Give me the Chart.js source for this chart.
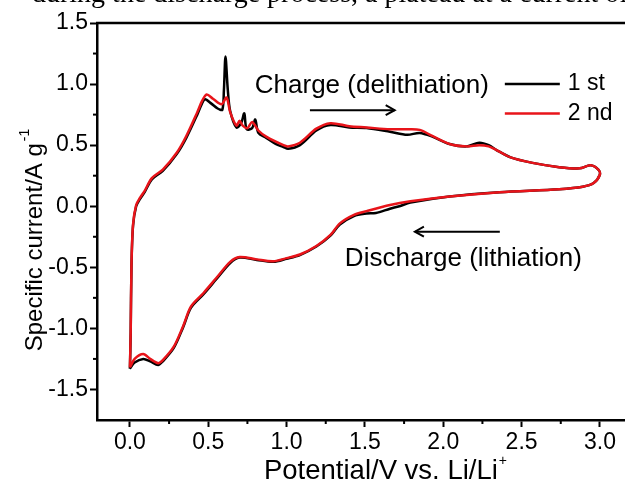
<!DOCTYPE html>
<html><head><meta charset="utf-8">
<script src="https://cdn.jsdelivr.net/npm/chart.js@4.4.1/dist/chart.umd.min.js"></script>
<style>
html,body{margin:0;padding:0;background:#fff;overflow:hidden;}
#wrap{position:relative;width:625px;height:486px;}
canvas{position:absolute;left:0;top:0;}
</style></head><body>
<div id="wrap"><canvas id="c" width="625" height="486"></canvas></div>
<script>
// ---- data ----
const seriesNames = ['1 st', '2 nd'];
const seriesColors = ['#000000', '#e8141a'];
const cycle1Potential = [0.00,0.005,0.01,0.02,0.04,0.065,0.096,0.14,0.21,0.30,0.36,0.43,0.46,0.48,0.52,0.56,0.59,0.60,0.61,0.625,0.64,0.68,0.71,0.73,0.745,0.78,0.80,0.82,0.87,0.93,0.98,1.01,1.085,1.19,1.28,1.40,1.51,1.66,1.77,1.85,1.93,2.04,2.15,2.23,2.29,2.34,2.43,2.57,2.74,2.87,2.94,2.99,3.00,
  2.96,2.89,2.74,2.36,2.04,1.79,1.72,1.66,1.57,1.51,1.43,1.34,1.28,1.19,1.085,1.00,0.915,0.81,0.70,0.64,0.55,0.47,0.39,0.34,0.28,0.21,0.18,0.13,0.085,0.03,0.00];
const cycle1Current = [-1.33,-1.04,-0.49,-0.16,0.00,0.06,0.12,0.22,0.29,0.43,0.56,0.75,0.84,0.875,0.84,0.80,0.79,0.95,1.225,0.95,0.78,0.645,0.68,0.76,0.63,0.64,0.71,0.60,0.56,0.51,0.485,0.47,0.50,0.62,0.665,0.645,0.64,0.61,0.585,0.60,0.57,0.51,0.49,0.52,0.50,0.46,0.40,0.355,0.32,0.31,0.335,0.30,0.26,
  0.19,0.16,0.14,0.115,0.08,0.03,0.00,-0.02,-0.055,-0.06,-0.08,-0.15,-0.24,-0.33,-0.40,-0.43,-0.455,-0.44,-0.42,-0.465,-0.60,-0.72,-0.83,-0.99,-1.16,-1.27,-1.30,-1.27,-1.25,-1.28,-1.33];
const cycle2Potential = [0.00,0.005,0.01,0.02,0.04,0.065,0.096,0.14,0.21,0.30,0.36,0.43,0.46,0.49,0.53,0.585,0.617,0.64,0.68,0.70,0.72,0.75,0.78,0.82,0.87,0.98,1.01,1.085,1.19,1.28,1.40,1.51,1.66,1.77,1.85,1.93,2.04,2.15,2.23,2.29,2.34,2.43,2.57,2.74,2.87,2.94,2.99,3.00,
  2.96,2.89,2.74,2.36,2.04,1.79,1.66,1.51,1.43,1.34,1.28,1.19,1.085,1.00,0.915,0.81,0.70,0.64,0.55,0.47,0.39,0.34,0.28,0.21,0.18,0.13,0.085,0.03,0.00];
const cycle2Current = [-1.32,-1.03,-0.48,-0.15,0.01,0.07,0.13,0.23,0.30,0.44,0.575,0.77,0.86,0.915,0.88,0.835,0.89,0.77,0.66,0.70,0.66,0.64,0.69,0.62,0.57,0.50,0.49,0.52,0.635,0.68,0.655,0.645,0.63,0.63,0.625,0.575,0.51,0.49,0.50,0.49,0.46,0.40,0.355,0.32,0.31,0.335,0.30,0.26,
  0.19,0.16,0.14,0.115,0.08,0.04,0.01,-0.04,-0.07,-0.14,-0.235,-0.325,-0.395,-0.425,-0.45,-0.435,-0.415,-0.455,-0.59,-0.71,-0.82,-0.98,-1.15,-1.26,-1.285,-1.25,-1.21,-1.25,-1.32];
const xMinorTicks = [0.25,0.75,1.25,1.75,2.25,2.75];
const yMinorTicks = [1.25,0.75,0.25,-0.25,-0.75,-1.25];
const xTitle = 'Potential/V vs. Li/Li';
const xTitleSup = '+';
const yTitle = 'Specific current/A g';
const yTitleSup = '-1';
const chargeLabel = 'Charge (delithiation)';
const dischargeLabel = 'Discharge (lithiation)';
const captionText = 'during the discharge process, a plateau at a current of';

const toPts = (xs, ys) => xs.map((x, i) => ({x, y: ys[i]}));
const FONT = '"Liberation Sans", Arial, sans-serif';

const extras = {
  id: 'extras',
  afterDraw(chart) {
    const {ctx, chartArea: a, scales: {x, y}} = chart;
    ctx.save();
    ctx.strokeStyle = '#000'; ctx.fillStyle = '#000';
    // cropped caption line of the page above the figure
    ctx.font = '28px "Liberation Serif", "Times New Roman", serif';
    ctx.textAlign = 'left'; ctx.textBaseline = 'alphabetic';
    ctx.fillText(captionText, 32, 2);
    // top frame line
    ctx.lineWidth = 2.5;
    ctx.beginPath(); ctx.moveTo(a.left - 1, a.top); ctx.lineTo(chart.width, a.top); ctx.stroke();
    // minor ticks
    ctx.lineWidth = 2;
    xMinorTicks.forEach(v => { const px = x.getPixelForValue(v); ctx.beginPath(); ctx.moveTo(px, a.bottom); ctx.lineTo(px, a.bottom + 4); ctx.stroke(); });
    yMinorTicks.forEach(v => { const py = y.getPixelForValue(v); ctx.beginPath(); ctx.moveTo(a.left, py); ctx.lineTo(a.left - 4, py); ctx.stroke(); });
    // legend
    ctx.font = '23px ' + FONT; ctx.textBaseline = 'middle'; ctx.textAlign = 'left';
    [[1.00, 0], [0.76, 1]].forEach(([yv, i]) => {
      const py = y.getPixelForValue(yv);
      ctx.strokeStyle = seriesColors[i]; ctx.lineWidth = 2.5;
      ctx.beginPath(); ctx.moveTo(x.getPixelForValue(2.393), py); ctx.lineTo(x.getPixelForValue(2.744), py); ctx.stroke();
      ctx.fillStyle = '#000';
      ctx.fillText(seriesNames[i], x.getPixelForValue(2.795), py);
    });
    // annotations
    ctx.font = '26px ' + FONT;
    ctx.fillText(chargeLabel, x.getPixelForValue(0.797), y.getPixelForValue(0.985));
    ctx.fillText(dischargeLabel, x.getPixelForValue(1.372), y.getPixelForValue(-0.43));
    const arrow = (x0, x1, yv) => {
      const p0 = x.getPixelForValue(x0), p1 = x.getPixelForValue(x1), py = y.getPixelForValue(yv);
      const d = Math.sign(p1 - p0);
      ctx.strokeStyle = '#000'; ctx.lineWidth = 2;
      ctx.beginPath(); ctx.moveTo(p0, py); ctx.lineTo(p1, py); ctx.stroke();
      ctx.beginPath(); ctx.moveTo(p1 - d * 9, py - 5); ctx.lineTo(p1, py); ctx.lineTo(p1 - d * 9, py + 5); ctx.stroke();
    };
    arrow(1.149, 1.69, 0.786);
    arrow(2.361, 1.819, -0.208);
    // x title
    const TF = 27.5, SF = 14;
    ctx.font = TF + 'px ' + FONT;
    const w = ctx.measureText(xTitle).width;
    ctx.font = SF + 'px ' + FONT;
    const ws = ctx.measureText(xTitleSup).width;
    const cx = 385;
    const sx = cx - (w + ws) / 2;
    ctx.font = TF + 'px ' + FONT; ctx.textAlign = 'left'; ctx.textBaseline = 'alphabetic';
    ctx.fillText(xTitle, sx, 479);
    ctx.font = SF + 'px ' + FONT;
    ctx.fillText(xTitleSup, sx + w + 1, 465);
    // y title
    ctx.save();
    ctx.translate(42, 241);
    ctx.rotate(-Math.PI / 2);
    ctx.font = '24px ' + FONT;
    const wy = ctx.measureText(yTitle).width;
    ctx.font = SF + 'px ' + FONT;
    const wys = ctx.measureText(yTitleSup).width;
    const sy = -(wy + wys) / 2;
    ctx.font = '24px ' + FONT;
    ctx.fillText(yTitle, sy, 0);
    ctx.font = SF + 'px ' + FONT;
    ctx.fillText(yTitleSup, sy + wy + 2, -13);
    ctx.restore();
    ctx.restore();
  }
};

new Chart(document.getElementById('c'), {
  type: 'scatter',
  data: {
    datasets: [
      {label: seriesNames[0], data: toPts(cycle1Potential, cycle1Current), borderColor: seriesColors[0], order: 1},
      {label: seriesNames[1], data: toPts(cycle2Potential, cycle2Current), borderColor: seriesColors[1], order: 0}
    ]
  },
  options: {
    responsive: false, animation: false,
    showLine: true,
    elements: {point: {radius: 0}, line: {borderWidth: 2.5, tension: 0.3}},
    layout: {padding: {top: 23, right: 0, left: 0, bottom: 0}},
    plugins: {legend: {display: false}, tooltip: {enabled: false}},
    scales: {
      x: {
        type: 'linear', min: -0.21, max: 3.16,
        ticks: {stepSize: 0.5, includeBounds: false, color: '#000', font: {family: FONT, size: 23}, padding: 2, maxRotation: 0,
          callback: v => Number(v).toFixed(1)},
        grid: {drawOnChartArea: false, drawTicks: true, tickLength: 7, tickWidth: 2, tickColor: '#000'},
        border: {display: true, color: '#000', width: 2.5},
        afterFit: s => { s.height = 66; }
      },
      y: {
        type: 'linear', min: -1.75, max: 1.5,
        ticks: {stepSize: 0.5, includeBounds: false, color: '#000', font: {family: FONT, size: 23}, padding: 2,
          callback: v => Number(v).toFixed(1)},
        grid: {drawOnChartArea: false, drawTicks: true, tickLength: 7, tickWidth: 2, tickColor: '#000'},
        border: {display: true, color: '#000', width: 2.5},
        afterFit: s => { s.width = 97; }
      }
    }
  },
  plugins: [extras]
});
</script>
</body></html>
